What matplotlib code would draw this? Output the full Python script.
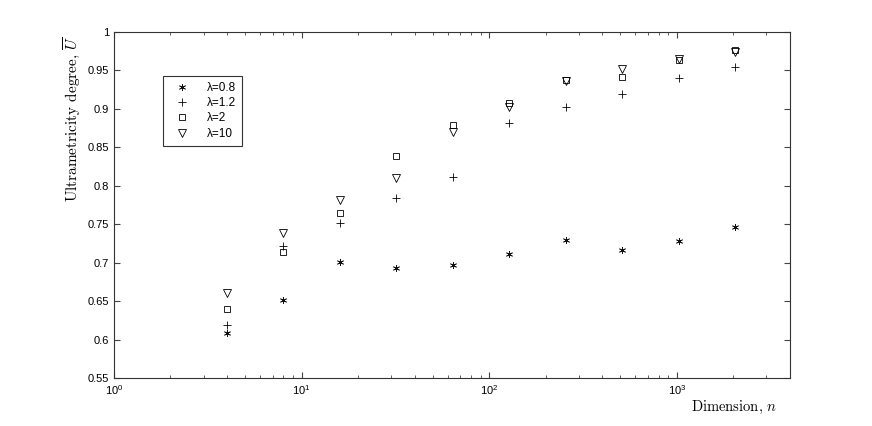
import numpy as np
import matplotlib
matplotlib.use("Agg")
import matplotlib.pyplot as plt

# dimension n and ultrametricity degree for each lambda
dims = [4, 8, 16, 32, 64, 128, 256, 512, 1024, 2048]
u_08 = [0.608, 0.652, 0.701, 0.693, 0.697, 0.711, 0.730, 0.716, 0.728, 0.747]
u_12 = [0.619, 0.722, 0.751, 0.784, 0.812, 0.881, 0.902, 0.919, 0.940, 0.954]
u_2 = [0.640, 0.714, 0.764, 0.839, 0.879, 0.908, 0.938, 0.942, 0.963, 0.976]
u_10 = [0.660, 0.738, 0.781, 0.810, 0.870, 0.903, 0.936, 0.952, 0.965, 0.974]
labels = ["λ=0.8", "λ=1.2", "λ=2", "λ=10"]

plt.rcParams['mathtext.fontset'] = 'cm'
plt.rcParams['font.family'] = ['Liberation Sans', 'DejaVu Sans']

fig = plt.figure(figsize=(8.72, 4.26), dpi=100)
ax = fig.add_axes([0.1307, 0.1127, 0.7752, 0.8122])

ax.plot(dims, u_08, linestyle='none', marker=(6, 2, 0), ms=5, mew=0.55, color='#111111', label=labels[0])
ax.plot(dims, u_12, linestyle='none', marker='+', ms=6, mew=0.6, color='k', label=labels[1])
ax.plot(dims, u_2, linestyle='none', marker='s', ms=5, mew=0.6, mfc='none', color='k', label=labels[2])
ax.plot(dims, u_10, linestyle='none', marker='v', ms=6, mew=0.6, mfc='none', color='k', label=labels[3])

ax.set_xscale('log')
ax.set_xlim(1, 4000)
ax.set_ylim(0.55, 1)
ax.set_yticks(np.arange(0.55, 1.001, 0.05))
ax.set_yticklabels(['0.55', '0.6', '0.65', '0.7', '0.75', '0.8', '0.85', '0.9', '0.95', '1'])
ax.tick_params(which='both', direction='in', top=True, right=True, labelsize=8, color='#444444')
ax.tick_params(which='major', length=4)
ax.tick_params(which='minor', length=2)
for s in ax.spines.values():
    s.set_color('#333333')
    s.set_linewidth(0.8)

ax.set_xlabel('Dimension, $n$', family='cmr10', fontsize=10.5)
ax.xaxis.set_label_coords(0.982, -0.084)
ax.xaxis.label.set_ha('right')
ax.xaxis.label.set_va('center')
ax.set_ylabel(r'Ultrametricity degree, $\overline{U}$', family='cmr10', fontsize=11)
ax.yaxis.set_label_coords(-0.048, 0.99)
ax.yaxis.label.set_va('bottom')
ax.yaxis.label.set_ha('right')

leg = ax.legend(loc='upper left', bbox_to_anchor=(0.0725, 0.873), borderaxespad=0, fontsize=8.5,
                frameon=True, fancybox=False, edgecolor='k', handletextpad=1.0, labelspacing=0.28,
                borderpad=0.5, handlelength=2.2)
leg.get_frame().set_linewidth(0.8)

fig.savefig('out.png', dpi=100)
